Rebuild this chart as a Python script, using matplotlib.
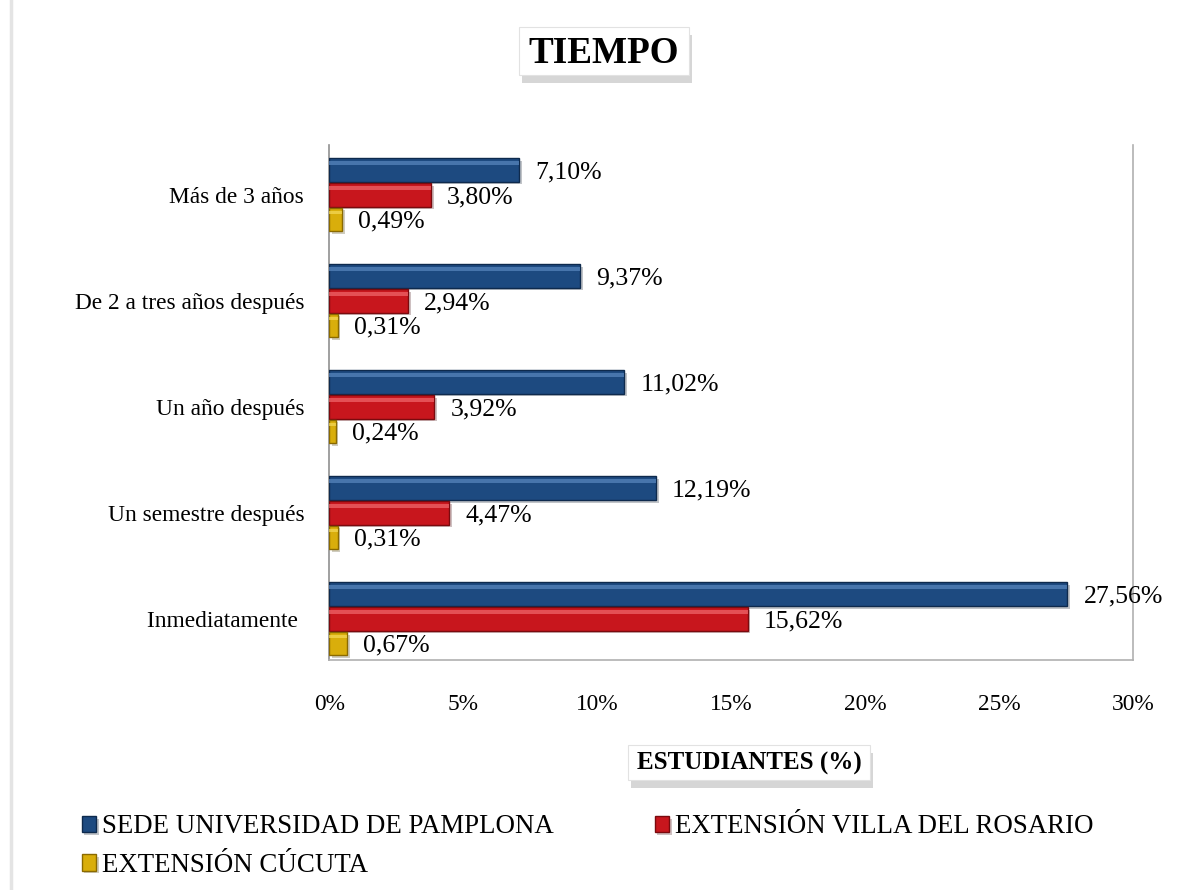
import matplotlib.pyplot as plt
import matplotlib.patheffects as pe
import numpy as np

plt.rcParams['font.family'] = ['Liberation Serif', 'DejaVu Serif']

# data (bottom to top)
categories = ["Inmediatamente ", "Un semestre después", "Un año después",
              "De 2 a tres años después", "Más de 3 años"]
pamplona = [27.56, 12.19, 11.02, 9.37, 7.10]
rosario = [15.62, 4.47, 3.92, 2.94, 3.80]
cucuta = [0.67, 0.31, 0.24, 0.31, 0.49]
series_names = ["SEDE UNIVERSIDAD DE PAMPLONA", "EXTENSIÓN VILLA DEL ROSARIO",
                "EXTENSIÓN CÚCUTA"]
xticks = [0, 5, 10, 15, 20, 25, 30]

colors = ["#1d4a80", "#c8161d", "#d9ae0b"]
edges = ["#0e2a4d", "#7a0a0e", "#8a6a00"]
highlights = ["#5a88c0", "#f06a6d", "#f5da5a"]

fig = plt.figure(figsize=(11.8, 8.9), dpi=100)
ax = fig.add_axes([0.279, 0.258, 0.681, 0.579])

y = np.arange(len(categories))
h = 0.22
offsets = [0.235, 0.0, -0.23]
handles = []
for vals, off, c, ec, hl, name in zip([pamplona, rosario, cucuta], offsets,
                                      colors, edges, highlights, series_names):
    b = ax.barh(y + off, vals, height=h, color=c, edgecolor=ec, linewidth=1,
                label=name, zorder=3)
    # light bevel stripe near the top edge
    ax.barh(y + off + h * 0.3, vals, height=h * 0.14, color=hl,
            linewidth=0, alpha=0.7, zorder=4)
    for rect in b:
        rect.set_path_effects([pe.SimplePatchShadow(offset=(2, -2), alpha=0.25),
                               pe.Normal()])
    handles.append(b)
    for yy, v in zip(y + off, vals):
        ax.text(v + 0.6, yy - 0.02, f"{v:.2f}%".replace(".", ","),
                va="center", ha="left", fontsize=18.5, zorder=5)

ax.set_xlim(0, 30)
ax.set_ylim(-0.39, 4.47)
ax.set_xticks(xticks)
ax.set_xticklabels([f"{t}%" for t in xticks], fontsize=16.8)
ax.set_yticks(y)
ax.set_yticklabels(categories, fontsize=16.8)
ax.tick_params(axis="both", length=0)
ax.tick_params(axis="x", pad=24)
ax.tick_params(axis="y", pad=18)
ax.spines["top"].set_visible(False)
for s in ["left", "bottom", "right"]:
    ax.spines[s].set_color("#b0b0b0")
    ax.spines[s].set_linewidth(1.2)
ax.spines["left"].set_color("#909090")

# boxes with drop shadows behind title and axis label
def shadow_box(x0, y0, w, hh):
    W, H = 1180, 890
    fig.patches.append(plt.Rectangle(((x0 + 3) / W, 1 - (y0 + hh + 8) / H),
                                     w / W, hh / H, transform=fig.transFigure,
                                     facecolor="#9a9a9a", edgecolor="none",
                                     alpha=0.4, zorder=0))
    fig.patches.append(plt.Rectangle((x0 / W, 1 - (y0 + hh) / H), w / W,
                                     hh / H, transform=fig.transFigure,
                                     facecolor="white", edgecolor="#e2e2e2",
                                     linewidth=0.8, zorder=1))

shadow_box(519, 27, 170, 48)
shadow_box(628, 745, 242, 35)

fig.text(0.512, 0.940, "TIEMPO", ha="center", va="center", fontsize=26.7,
         fontweight="bold", zorder=3)
fig.text(0.635, 0.142, "ESTUDIANTES (%)", ha="center", va="center",
         fontsize=18, fontweight="bold", zorder=3)

# order so the legend reads row by row
order = [0, 2, 1]
leg = fig.legend(handles=[handles[i] for i in order],
                 labels=[series_names[i] for i in order], loc="upper left",
                 bbox_to_anchor=(0.060, 0.097), ncol=2, frameon=False,
                 fontsize=19.4, handlelength=0.55, handleheight=0.55,
                 handletextpad=0.2, columnspacing=3.75, labelspacing=0.5,
                 borderaxespad=0)

# faint left edge of the chart frame
fig.add_artist(plt.Line2D([0.009, 0.009], [0, 1], transform=fig.transFigure,
                          color="#e4e4e4", linewidth=2.5))

fig.savefig("out.png", dpi=100)
